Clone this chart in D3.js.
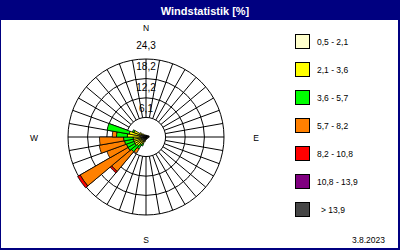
<!DOCTYPE html>
<html><head><meta charset="utf-8">
<script src="https://cdn.jsdelivr.net/npm/d3@7"></script>
<style>html,body{margin:0;padding:0;background:#fff;}svg{display:block;}</style>
</head><body>
<script>
// sector centre bearings (degrees)
const directions = d3.range(36).map(i => 5 + 10 * i);
// speed classes (legend labels)
const classLabels = ["0,5 - 2,1","2,1 - 3,6","3,6 - 5,7","5,7 - 8,2","8,2 - 10,8","10,8 - 13,9","> 13,9"];
const classColors = ["#FFFFCC","#FFFF00","#00FF00","#FF8000","#FF0000","#800080","#464646"];
// frequency (%) per sector for each speed class
const c1 = [0.6,0.5,0.5,0.4,0.5,0.6,0.8,1.0,1.0,0.9,0.8,0.6,0.6,0.5,0.5,0.5,0.6,0.8,0.8,1.0,1.2,1.3,1.4,1.5,1.5,1.5,1.5,1.9,2.0,1.5,1.2,1.0,0.8,0.7,0.6,0.6];
const c2 = [0,0,0,0,0,0,0,0,0,0,0,0,0,0,0,0,0,0,0,0.5,1.0,1.5,2.2,2.5,2.5,2.5,2.5,3.9,3.3,2.5,1.0,0.3,0,0,0,0];
const c3 = [0,0,0,0,0,0,0,0,0,0,0,0,0,0,0,0,0,0,0,0,0.8,1.5,2.4,2.5,2.5,2.8,3.0,3.4,7.0,0.5,0,0,0,0,0,0];
const c4 = [0,0,0,0,0,0,0,0,0,0,0,0,0,0,0,0,0,0,0,0,0,1.5,8.0,17.2,6.5,8.0,7.5,1.3,0,0,0,0,0,0,0,0];
const c5 = [0,0,0,0,0,0,0,0,0,0,0,0,0,0,0,0,0,0,0,0,0,0,0.6,0.9,0,0,0,0,0,0,0,0,0,0,0,0];
const c6 = new Array(36).fill(0);
const c7 = new Array(36).fill(0);
const series = [c1,c2,c3,c4,c5,c6,c7];
// ring tick values and labels
const ringValues = [6.1, 12.2, 18.2, 24.3];
const ringLabels = ["6,1","12,2","18,2","24,3"];
const compass = [{t:"N",a:0},{t:"E",a:90},{t:"S",a:180},{t:"W",a:270}];
const title = "Windstatistik [%]";
const dateText = "3.8.2023";

const W = 400, H = 250;
const svg = d3.select("body").append("svg").attr("width", W).attr("height", H);
const font = "'Liberation Sans', Arial, sans-serif";

svg.append("rect").attr("width", W).attr("height", H).attr("fill", "#fff");
// title bar
svg.append("rect").attr("x",0).attr("y",0).attr("width",W).attr("height",20).attr("fill","#000080");
svg.append("text").attr("x",205).attr("y",11).attr("text-anchor","middle").attr("dominant-baseline","central")
  .attr("fill","#fff").attr("font-family",font).attr("font-weight","bold").attr("font-size",11).text(title);
// frame
svg.append("rect").attr("x",0).attr("y",20).attr("width",1).attr("height",H-20).attr("fill","#000080");
svg.append("rect").attr("x",W-2).attr("y",20).attr("width",2).attr("height",H-20).attr("fill","#000080");
svg.append("rect").attr("x",0).attr("y",H-2).attr("width",W).attr("height",2).attr("fill","#000080");

const cx = 146, cy = 137, R = 78;
const r = d3.scaleLinear().domain([0, 24.3]).range([0, R]);
const angle = d3.scaleLinear().domain([0, 360]).range([0, 2 * Math.PI]);
const g = svg.append("g").attr("transform", `translate(${cx},${cy})`);

// grid rings
g.selectAll("circle.ring").data(ringValues).join("circle").attr("class","ring")
  .attr("r", d => r(d)).attr("fill","none").attr("stroke","#000").attr("stroke-width",1);
// spokes every 10 deg
const spokes = d3.range(0, 360, 10);
g.selectAll("line.spoke").data(spokes).join("line").attr("class","spoke")
  .attr("x1", d => r(ringValues[0]) * Math.sin(angle(d)))
  .attr("y1", d => -r(ringValues[0]) * Math.cos(angle(d)))
  .attr("x2", d => R * Math.sin(angle(d)))
  .attr("y2", d => -R * Math.cos(angle(d)))
  .attr("stroke","#000").attr("stroke-width",1);

// stacked wedges
const arc = d3.arc();
const segs = [];
directions.forEach((dir, i) => {
  let base = 0;
  series.forEach((s, k) => {
    const v = s[i];
    if (v > 0) {
      segs.push({dir, k, y0: base, y1: base + v});
      base += v;
    }
  });
});
g.selectAll("path.seg").data(segs).join("path").attr("class","seg")
  .attr("d", d => arc({innerRadius: r(d.y0), outerRadius: r(d.y1),
                        startAngle: angle(d.dir - 5), endAngle: angle(d.dir + 5)}))
  .attr("fill", d => classColors[d.k]).attr("stroke","#000").attr("stroke-width",0.8);

// ring labels
g.selectAll("text.rl").data(ringValues).join("text").attr("class","rl")
  .attr("x", 0).attr("y", d => -r(d) * 1.08 - 7.5)
  .attr("text-anchor","middle").attr("dominant-baseline","central")
  .attr("font-family",font).attr("font-size",10).attr("fill","#000")
  .text((d, i) => ringLabels[i]);

// compass labels
const compassR = {N: 110, S: 102, E: 110, W: 112};
g.selectAll("text.cp").data(compass).join("text").attr("class","cp")
  .attr("x", d => compassR[d.t] * Math.sin(angle(d.a)))
  .attr("y", d => -compassR[d.t] * Math.cos(angle(d.a)) + 1)
  .attr("text-anchor","middle").attr("dominant-baseline","central")
  .attr("font-family",font).attr("font-size",8.5).attr("fill","#000").text(d => d.t);

// legend
const ly = d3.scalePoint().domain(d3.range(classLabels.length)).range([34, 202]);
const leg = svg.append("g");
leg.selectAll("rect").data(classLabels).join("rect")
  .attr("x", 295.5).attr("y", (d, i) => ly(i) + 0.5).attr("width", 14).attr("height", 14)
  .attr("fill", (d, i) => classColors[i]).attr("stroke","#000").attr("stroke-width",1);
leg.selectAll("text").data(classLabels).join("text")
  .attr("x", (d, i) => i === 6 ? 321 : 317).attr("y", (d, i) => ly(i) + 8)
  .attr("dominant-baseline","central").attr("font-family",font).attr("font-size",8.5).attr("fill","#000")
  .text(d => d);

svg.append("text").attr("x",385).attr("y",240).attr("text-anchor","end").attr("dominant-baseline","central")
  .attr("font-family",font).attr("font-size",8.5).attr("fill","#000").text(dateText);
</script>
</body></html>
